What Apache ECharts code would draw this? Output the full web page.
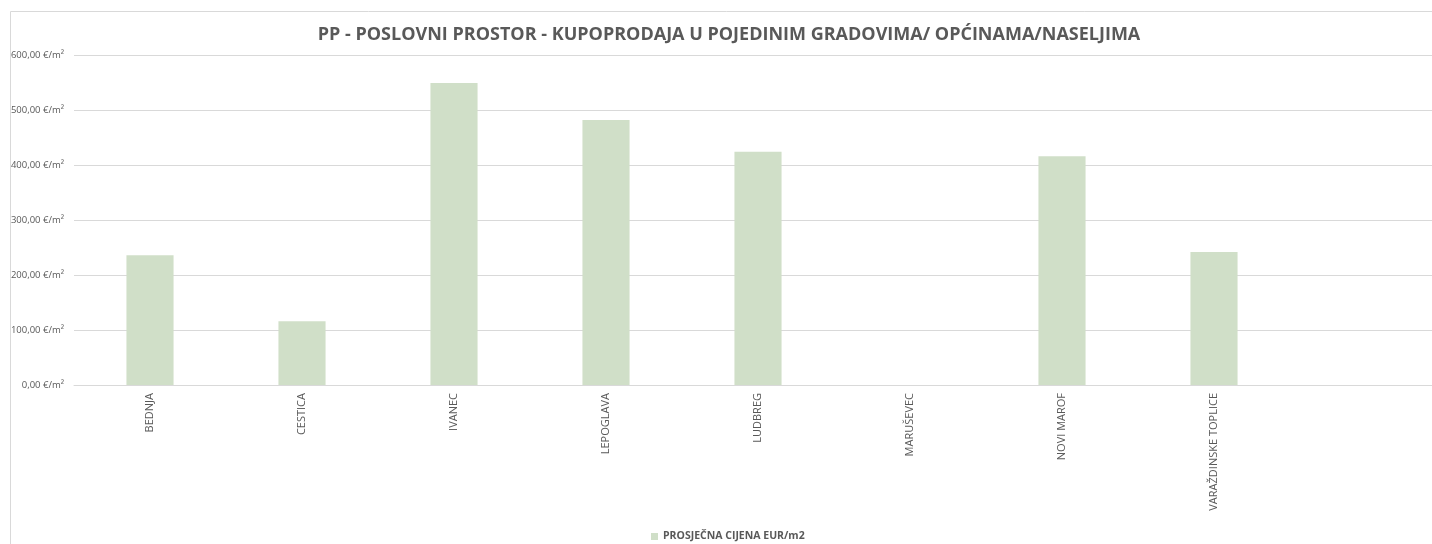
<!DOCTYPE html>
<html>
<head>
<meta charset="utf-8">
<script src="https://cdn.jsdelivr.net/npm/echarts@6/dist/echarts.min.js"></script>
<style>
  html, body { margin: 0; padding: 0; background: #fff; overflow: hidden; }
  /* the plot area runs a little past the right edge of the window */
  #chart { width: 1442px; height: 544px; }
</style>
</head>
<body>
<div id="chart"></div>
<script>
// categories and values (last slot left empty)
var cities = ['BEDNJA', 'CESTICA', 'IVANEC', 'LEPOGLAVA', 'LUDBREG', 'MARUŠEVEC', 'NOVI MAROF', 'VARAŽDINSKE TOPLICE', '']
var avgPrice = [236, 116, 549, 482, 424, 0, 416, 242, null]
var yTicks = { min: 0, max: 600, interval: 100 }

var FONT = '"Open Sans", "Noto Sans", sans-serif'
var TEXT = '#595959'
var GRID = '#d9d9d9'

var myChart = echarts.init(document.getElementById('chart'))

var option = {
  animation: false,
  textStyle: { fontFamily: FONT },
  title: {
    text: 'PP - POSLOVNI PROSTOR - KUPOPRODAJA U POJEDINIM GRADOVIMA/ OPĆINAMA/NASELJIMA',
    left: 724,
    textAlign: 'center',
    top: 21,
    textStyle: { fontSize: 18, fontWeight: 'bold', color: TEXT, fontFamily: FONT },
  },
  legend: {
    data: ['PROSJEČNA CIJENA EUR/m2'],
    top: 526,
    left: 646,
    icon: 'rect',
    itemWidth: 7,
    itemHeight: 7,
    itemGap: 4,
    textStyle: { fontSize: 10.5, fontWeight: 'bold', color: TEXT, fontFamily: FONT },
  },
  graphic: [
    {
      type: 'rect',
      shape: { x: 10.5, y: 11.5, width: 1500, height: 600 },
      style: { fill: 'none', stroke: GRID, lineWidth: 1 },
      silent: true,
    },
  ],
  grid: {
    left: 74,
    top: 55,
    right: 0,
    height: 330,
    containLabel: false,
  },
  xAxis: {
    type: 'category',
    data: cities,
    axisLine: { lineStyle: { color: GRID } },
    axisTick: { show: false },
    axisLabel: {
      rotate: 90,
      interval: 0,
      margin: 8,
      fontSize: 11,
      color: TEXT,
      fontFamily: FONT,
    },
  },
  yAxis: {
    type: 'value',
    min: yTicks.min,
    max: yTicks.max,
    interval: yTicks.interval,
    axisLine: { show: false },
    axisTick: { show: false },
    splitLine: { lineStyle: { color: GRID } },
    axisLabel: {
      fontSize: 9.5,
      color: TEXT,
      margin: 10,
      fontFamily: FONT,
      formatter: function(v) {
        return v.toFixed(2).replace('.', ',') + ' €/m²'
      },
    },
  },
  series: [
    {
      name: 'PROSJEČNA CIJENA EUR/m2',
      type: 'bar',
      data: avgPrice,
      barWidth: '31%',
      itemStyle: { color: '#d0dfc8' },
    },
  ],
}

myChart.setOption(option)
</script>
</body>
</html>
